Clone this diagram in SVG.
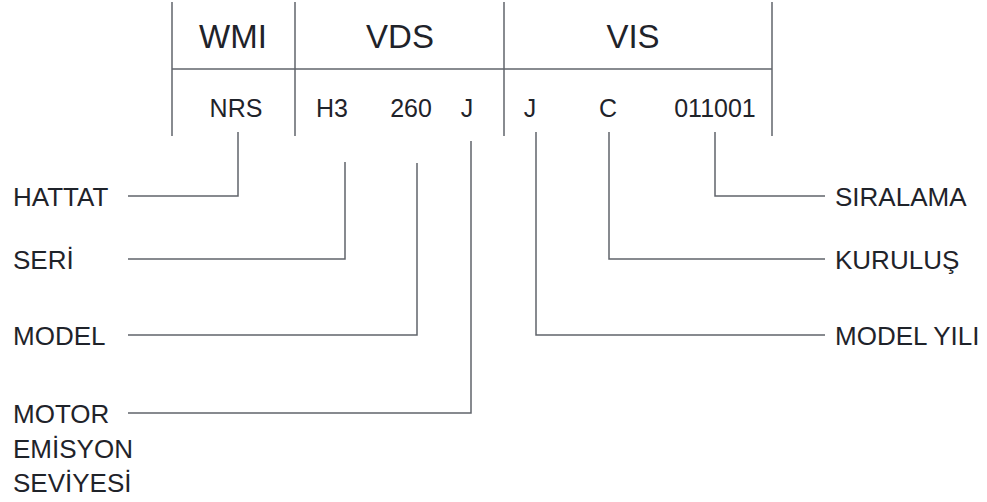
<svg xmlns="http://www.w3.org/2000/svg" width="987" height="502" viewBox="0 0 987 502">
<style>
.ln{stroke:#60646b;stroke-width:1.5;fill:none}
.t{font-family:"Liberation Sans",Arial,sans-serif;fill:#1f232a}
.h{font-size:33px;text-anchor:middle}
.c{font-size:25px;text-anchor:middle}
.l{font-size:26px}
</style>
<rect width="987" height="502" fill="#ffffff"/>
<g id="table">
<line class="ln" x1="172" y1="2" x2="172" y2="136"/>
<line class="ln" x1="295" y1="2" x2="295" y2="136"/>
<line class="ln" x1="504" y1="2" x2="504" y2="136"/>
<line class="ln" x1="772" y1="2" x2="772" y2="136"/>
<line class="ln" x1="172" y1="69" x2="772" y2="69"/>
<text class="t h" x="233" y="48">WMI</text>
<text class="t h" x="400" y="48">VDS</text>
<text class="t h" x="633" y="48">VIS</text>
<text class="t c" x="236" y="117">NRS</text>
<text class="t c" x="332" y="117">H3</text>
<text class="t c" x="411" y="117">260</text>
<text class="t c" x="467" y="117">J</text>
<text class="t c" x="530" y="117">J</text>
<text class="t c" x="608" y="117">C</text>
<text class="t c" x="715" y="117">011001</text>
</g>
<g id="connectors">
<polyline class="ln" points="238,132 238,196 128,196"/>
<polyline class="ln" points="345,162 345,259 128,259"/>
<polyline class="ln" points="417,163 417,335 128,335"/>
<polyline class="ln" points="471,141 471,413 128,413"/>
<polyline class="ln" points="715,132 715,196 825,196"/>
<polyline class="ln" points="609,132 609,259 825,259"/>
<polyline class="ln" points="536,132 536,335 825,335"/>
</g>
<g id="hattat"><text class="t l" x="13" y="206">HATTAT</text></g>
<g id="seri"><text class="t l" x="13" y="269">SERİ</text></g>
<g id="model"><text class="t l" x="13" y="345">MODEL</text></g>
<g id="motor"><text class="t l" x="13" y="423">MOTOR</text><text class="t l" x="13" y="458">EMİSYON</text><text class="t l" x="13" y="492">SEVİYESİ</text></g>
<g id="siralama"><text class="t l" x="835" y="206">SIRALAMA</text></g>
<g id="kurulus"><text class="t l" x="835" y="269">KURULUŞ</text></g>
<g id="modelyili"><text class="t l" x="835" y="345">MODEL YILI</text></g>
</svg>
